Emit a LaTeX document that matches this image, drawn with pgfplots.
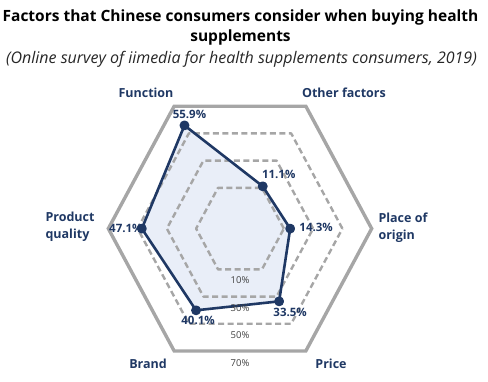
\documentclass[border=0pt]{standalone}
\usepackage{pgfplots}
\pgfplotsset{compat=1.18}
\usepackage{fontspec}
\setmainfont{Open Sans}
\definecolor{navy}{HTML}{1F3864}
\definecolor{lightfill}{HTML}{E9EEF8}
\definecolor{gridgray}{HTML}{A6A6A6}
\definecolor{ticktext}{HTML}{404040}
\begin{document}
\begin{tikzpicture}
\path[use as bounding box] (0,0) rectangle (488pt,-382pt);
% offset of the radial axis: 0 on the chart is drawn at radius 20
\begin{axis}[
  hide axis, clip=false,
  x=1.463pt, y=1.57pt,
  xmin=-100, xmax=100, ymin=-100, ymax=100,
  anchor=center, at={(240pt,-228.6pt)},
  /pgf/number format/assume math mode=true,
]
% data fill
\addplot[draw=none, fill=lightfill] table[
  x expr={(\thisrow{v}+20)*cos(\thisrow{a})},
  y expr={(\thisrow{v}+20)*sin(\thisrow{a})}] {
a v
120 55.9
60 11.1
0 14.3
-60 33.5
-120 40.1
180 47.1
120 55.9
};
% grid hexagons (radial values 10, 30, 50 dashed; 70 solid)
\addplot[gridgray, line width=2.4pt, dash pattern=on 6pt off 3.5pt, line join=round] table[
  x expr={(\thisrow{v}+20)*cos(\thisrow{a})},
  y expr={(\thisrow{v}+20)*sin(\thisrow{a})}] {
a v
0 10
60 10
120 10
180 10
240 10
300 10
360 10
};
\addplot[gridgray, line width=2.4pt, dash pattern=on 6pt off 3.5pt, line join=round] table[
  x expr={(\thisrow{v}+20)*cos(\thisrow{a})},
  y expr={(\thisrow{v}+20)*sin(\thisrow{a})}] {
a v
0 30
60 30
120 30
180 30
240 30
300 30
360 30
};
\addplot[gridgray, line width=2.4pt, dash pattern=on 6pt off 3.5pt, line join=round] table[
  x expr={(\thisrow{v}+20)*cos(\thisrow{a})},
  y expr={(\thisrow{v}+20)*sin(\thisrow{a})}] {
a v
0 50
60 50
120 50
180 50
240 50
300 50
360 50
};
\addplot[gridgray, line width=3.4pt, line join=miter] table[
  x expr={(\thisrow{v}+20)*cos(\thisrow{a})},
  y expr={(\thisrow{v}+20)*sin(\thisrow{a})}] {
a v
0 70
60 70
120 70
180 70
240 70
300 70
360 70
} -- cycle;
% data line, markers and labels
\addplot[navy, line width=2.6pt, line join=round, mark=*, mark size=3.6pt,
  mark options={solid, fill=navy},
  point meta=explicit,
  visualization depends on={value \thisrow{anc} \as \anc},
  visualization depends on={\thisrow{dx} \as \dx},
  visualization depends on={\thisrow{dy} \as \dy},
  nodes near coords={\pgfmathprintnumber[fixed,precision=1,fixed zerofill]{\pgfplotspointmeta}\%},
  every node near coord/.append style={anchor=\anc, xshift=\dx pt, yshift=\dy pt,
    font=\bfseries\fontsize{11.5}{13}\selectfont, text=navy, inner sep=1pt},
] table[
  x expr={(\thisrow{v}+20)*cos(\thisrow{a})},
  y expr={(\thisrow{v}+20)*sin(\thisrow{a})},
  meta=v] {
a v anc dx dy
120 55.9 south 5 4
60 11.1 south 16 5
0 14.3 west 7 1
-60 33.5 north 11 -5
-120 40.1 north 2 -4
180 47.1 east 3 0
} -- cycle;
% radial tick labels
\node[font=\fontsize{9.5}{11}\selectfont, text=ticktext, anchor=north] at (axis cs:0,{-30*0.866}) [yshift=-4pt] {10\%};
\node[font=\fontsize{9.5}{11}\selectfont, text=ticktext, anchor=north] at (axis cs:0,{-50*0.866}) [yshift=-4pt] {30\%};
\node[font=\fontsize{9.5}{11}\selectfont, text=ticktext, anchor=north] at (axis cs:0,{-70*0.866}) [yshift=-4pt] {50\%};
\node[font=\fontsize{9.5}{11}\selectfont, text=ticktext, anchor=north] at (axis cs:0,{-90*0.866}) [yshift=-5pt] {70\%};
\end{axis}
% titles
\node[font=\bfseries\fontsize{15.5}{18}\selectfont] at (240.5pt,-17.5pt) {Factors that Chinese consumers consider when buying health};
\node[font=\bfseries\fontsize{15.5}{18}\selectfont] at (240.5pt,-37.5pt) {supplements};
\node[font=\itshape\fontsize{16}{18}\selectfont, text=black!85] at (241.5pt,-59pt) {(Online survey of iimedia for health supplements consumers, 2019)};
% category labels
\begin{scope}[every node/.style={font=\bfseries\fontsize{12.5}{17}\selectfont, text=navy}]
\node at (146pt,-92.7pt) {Function};
\node at (344pt,-92.7pt) {Other factors};
\node[anchor=west, align=left] at (375pt,-228pt) {Place of\\origin};
\node at (331pt,-364pt) {Price};
\node at (148pt,-364pt) {Brand};
\node[anchor=west, align=left] at (42pt,-227pt) {Product\\quality};
\end{scope}
\end{tikzpicture}
\end{document}
